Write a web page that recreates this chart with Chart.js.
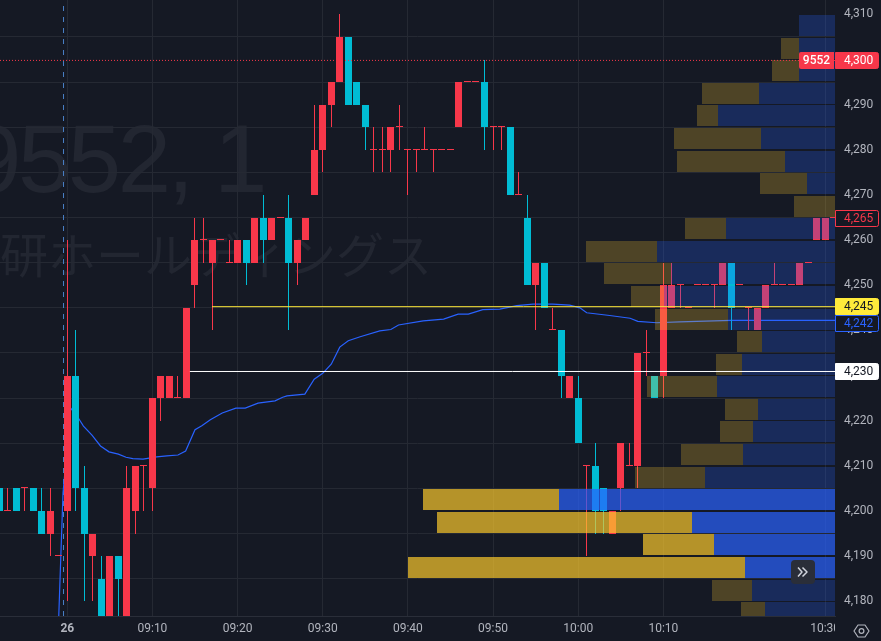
<!DOCTYPE html>
<html><head><meta charset="utf-8">
<style>html,body{margin:0;padding:0;background:#151924}canvas{display:block}</style>
<script src="https://cdn.jsdelivr.net/npm/chart.js@4"></script>
</head><body><canvas id="c" width="881" height="641"></canvas>
<script>
// minutes from 09:00, one candle per minute (-8 ... 90)
const firstMinute = -8;
const opens  = [4205,4200,4205,4205,4205,4200,4195,4190,4200,4230,4205,4190,4185,4175,4190,4175,4200,4210,4205,4225,4225,4225,4225,4250,4260,4255,4260,4255,4255,4260,4255,4265,4260,4265,4265,4255,4260,4270,4280,4290,4295,4305,4295,4290,4280,4280,4280,4285,4280,4280,4280,4280,4280,4280,4285,4295,4295,4295,4285,4285,4285,4270,4265,4250,4255,4240,4240,4225,4225,4210,4210,4205,4195,4205,4210,4210,4235,4230,4230,4245,4250,4245,4250,4250,4250,4250,4255,4250,4245,4240,4245,4250,4250,4250,4250,4255,4260,4260,4265];
const closes = [4200,4200,4200,4205,4200,4195,4200,4190,4230,4205,4195,4195,4175,4190,4185,4205,4210,4210,4225,4230,4230,4225,4245,4260,4260,4260,4260,4255,4260,4255,4265,4260,4265,4265,4255,4260,4265,4280,4290,4295,4305,4290,4290,4285,4280,4280,4285,4285,4280,4280,4280,4280,4280,4280,4295,4295,4295,4285,4285,4285,4270,4270,4250,4255,4245,4240,4230,4230,4215,4210,4200,4200,4200,4215,4210,4235,4235,4225,4250,4250,4250,4245,4250,4250,4250,4255,4245,4250,4245,4245,4250,4250,4250,4250,4255,4255,4265,4265,4265];
const highs  = [4205,4205,4205,4205,4205,4205,4205,4190,4260,4240,4210,4195,4190,4190,4190,4210,4210,4210,4225,4230,4230,4230,4245,4265,4265,4260,4260,4260,4260,4260,4265,4270,4265,4265,4270,4260,4265,4290,4290,4295,4310,4305,4295,4290,4285,4285,4285,4290,4280,4280,4285,4280,4280,4280,4295,4295,4295,4300,4285,4285,4285,4275,4270,4255,4255,4245,4240,4230,4230,4210,4215,4205,4200,4215,4215,4235,4240,4230,4255,4255,4250,4245,4250,4250,4250,4255,4255,4250,4245,4245,4250,4255,4250,4250,4255,4255,4265,4265,4265];
const lows   = [4200,4200,4200,4200,4200,4195,4190,4190,4180,4200,4180,4180,4175,4175,4175,4175,4195,4200,4200,4220,4225,4225,4225,4245,4255,4240,4260,4255,4255,4250,4255,4255,4260,4265,4240,4250,4260,4270,4275,4285,4295,4290,4290,4280,4275,4275,4275,4280,4270,4275,4280,4275,4280,4280,4285,4295,4295,4280,4280,4280,4270,4270,4250,4240,4245,4240,4225,4225,4215,4190,4195,4195,4195,4200,4210,4205,4230,4225,4225,4245,4245,4245,4250,4250,4245,4250,4240,4250,4240,4240,4245,4250,4250,4250,4250,4255,4260,4260,4265];

// volume profile rows
const profilePrices = [4307.5,4302.5,4297.5,4292.5,4287.5,4282.5,4277.5,4272.5,4267.5,4262.5,4257.5,4252.5,4247.5,4242.5,4237.5,4232.5,4227.5,4222.5,4217.5,4212.5,4207.5,4202.5,4197.5,4192.5,4187.5,4182.5,4177.5];
const profileBuy    = [36,36,36,76,117,74,50,28,0,109,178,164,171,107,73,93,118,77,82,92,130,276,143,121,90,83,70];
const profileSell   = [0,18,27,57,21,87,108,47,41,41,71,67,33,73,25,26,70,33,33,62,70,136,255,71,337,40,24];
const valueAreaLow = 4185, valueAreaHigh = 4205;

// VWAP
const vwapMinutes = [-1,-0.5,0.4,1.3,1.9,2.9,3.9,4.9,6,6.9,7.7,8.9,10.5,11.7,13,13.9,15,15.8,16.8,18.2,19.8,20.9,22.4,24.4,25.3,25.8,27.9,29,30,31,32,33,34.4,36.7,38,38.9,41.8,44.2,45.9,47.1,48.8,50.8,52.8,54.7,57,59,60.2,61,63.7,66.1,67,69.2,71.9,78,91];
const vwapValues  = [4176.7,4204,4222.8,4220.6,4218.8,4216.8,4214.4,4213.1,4212.6,4211.9,4211.6,4211.5,4212,4212.2,4212.4,4213.3,4218,4218.9,4220.2,4221.7,4222.8,4222.8,4223.9,4224.4,4225.2,4225.5,4225.9,4229.2,4230.5,4232.5,4236.3,4237.7,4238.6,4239.9,4240.2,4241.2,4242.1,4242.5,4243.6,4243.6,4244.6,4244.7,4245.5,4245.8,4245.8,4245.6,4245,4243.9,4243.3,4242.7,4242,4241.7,4241.9,4242.2,4242.2];

// axes
const priceTicks = [4310,4300,4290,4280,4270,4260,4250,4240,4230,4220,4210,4200,4190,4180];
const timeTicks = [0,10,20,30,40,50,60,70,89];
const timeLabels = ['26','09:10','09:20','09:30','09:40','09:50','10:00','10:10','10:30'];

// price levels and tags
const yellowLevel = 4245.25, yellowStart = 17;
const whiteLevel = 4230.9, whiteStart = 14.4;
const lastLevel = 4299.8;
const sessionBreak = -0.44;
const tagTexts  = ['4,300','4,265','4,245','4,242','4,230'];
const tagPrices = [4299.8,4265,4245.4,4241.7,4231];
const tagFills  = ['#f7374a','#151924','#ffeb3b','#151924','#ffffff'];
const tagEdges  = ['#f7374a','#f7374a','#ffeb3b','#2962ff','#ffffff'];
const tagInks   = ['#ffffff','#f7374a','#131722','#2962ff','#131722'];

const RED='#f7374a', CYAN='#00bcd4', BG='#151924', GRID='#252933', TXT='#b2b5be';
const xMin=-7.9, xMax=90.16, yMin=4176.745, yMax=4313.18;

const minutes = opens.map((_,i)=>firstMinute+i);
const candleColors = opens.map((o,i)=>closes[i]>=o?RED:CYAN);
const inVA = p=>p>valueAreaLow && p<valueAreaHigh;

const flat = {grouped:false,inflateAmount:0,borderWidth:0};
const datasets = [
 {type:'line',label:'session',order:7,data:[{x:sessionBreak,y:yMin},{x:sessionBreak,y:yMax}],borderColor:'#4a80c8',borderWidth:1,borderDash:[5,6],pointRadius:0},
 {type:'line',label:'VWAP',order:6,data:vwapMinutes.map((m,i)=>({x:m,y:vwapValues[i]})),borderColor:'#2962ff',borderWidth:1.2,pointRadius:0,tension:0},
 {type:'bar',label:'wicks',order:5,...flat,barThickness:1,data:minutes.map((m,i)=>({x:m,y:[lows[i],highs[i]]})),backgroundColor:candleColors},
 {type:'bar',label:'bodies',order:4,...flat,barThickness:7,minBarLength:1,data:minutes.map((m,i)=>({x:m,y:[opens[i],closes[i]]})),backgroundColor:candleColors},
 {type:'bar',label:'buy',order:3,...flat,indexAxis:'y',xAxisID:'xp',yAxisID:'y',barThickness:21,data:profilePrices.map((p,i)=>({y:p,x:[0,profileBuy[i]]})),backgroundColor:profilePrices.map(p=>inVA(p)?'rgba(41,98,255,.7)':'rgba(41,98,255,.25)')},
 {type:'bar',label:'sell',order:3,...flat,indexAxis:'y',xAxisID:'xp',yAxisID:'y',barThickness:21,data:profilePrices.map((p,i)=>({y:p,x:[profileBuy[i],profileBuy[i]+profileSell[i]]})),backgroundColor:profilePrices.map(p=>inVA(p)?'rgba(250,199,44,.7)':'rgba(250,199,44,.25)')},
 {type:'line',label:'last',order:1,data:[{x:xMin,y:lastLevel},{x:xMax,y:lastLevel}],borderColor:RED,borderWidth:1,borderDash:[1,2],pointRadius:0},
 {type:'line',label:'yellow',order:1,data:[{x:yellowStart,y:yellowLevel},{x:xMax,y:yellowLevel}],borderColor:'#ffeb3b',borderWidth:1,pointRadius:0},
 {type:'line',label:'white',order:1,data:[{x:whiteStart,y:whiteLevel},{x:xMax,y:whiteLevel}],borderColor:'#ffffff',borderWidth:1,pointRadius:0}
];

const decor = {
 id:'decor',
 beforeDraw(chart){
  const c=chart.ctx; c.save();
  c.fillStyle=BG; c.fillRect(0,0,chart.width,chart.height);
  c.fillStyle='#222631'; c.textBaseline='alphabetic'; c.textAlign='left';
  c.font='96px "Liberation Sans"'; c.letterSpacing='-3.5px';
  c.fillText('9552, 1',-32,192);
  c.letterSpacing='0px';
  c.font='48px "Noto Sans CJK JP"';
  c.fillText('研ホールディングス',0,273);
  c.restore();
 },
 beforeDatasetsDraw(chart){
  chart.getSortedVisibleDatasetMetas().forEach(meta=>{
   if(meta.type!=='bar')return;
   meta.data.forEach(el=>{
    if(el.horizontal){
     const t=Math.round(el.y-el.height/2), b=Math.round(el.y+el.height/2);
     el.y=(t+b)/2; el.height=b-t; el.x=Math.round(el.x); el.base=Math.round(el.base);
    }else{
     el.x=Math.round(el.x-0.5)+0.5;
     const same=Math.abs(el.y-el.base)<1.5 && el.y!==el.base;
     let a=Math.round(el.y), b=Math.round(el.base);
     if(same && a===b) b=a+1;
     el.y=a; el.base=b; el.height=b-a;
    }
   });
  });
 },
 afterDraw(chart){
  const c=chart.ctx, y=chart.scales.y; c.save();
  // price axis column hides the overflow of the last time label
  c.fillStyle=BG; c.fillRect(835,617,46,24);
  c.font='12px Roboto'; c.textBaseline='middle'; c.textAlign='left';
  tagTexts.forEach((t,i)=>{
   const py=Math.round(y.getPixelForValue(tagPrices[i]));
   c.beginPath(); c.roundRect(835.5,py-7.5,43,16,[0,2,2,0]);
   c.fillStyle=tagFills[i]; c.fill();
   c.strokeStyle=tagEdges[i]; c.lineWidth=1; c.stroke();
   c.fillStyle=tagInks[i];
   c.fillText(t,844,py+1);
  });
  // symbol tag
  const py=Math.round(y.getPixelForValue(tagPrices[0]));
  c.fillStyle=RED; c.beginPath(); c.roundRect(799,py-8,35,17,[2,0,0,2]); c.fill();
  c.fillStyle='#fff'; c.textAlign='center'; c.font='500 12px Roboto'; c.fillText('9552',816.5,py+1);
  // scroll button
  c.fillStyle='#2a2e39'; c.beginPath(); c.roundRect(791,560,24,24,4); c.fill();
  c.strokeStyle='#d1d4dc'; c.lineWidth=1.5; c.lineJoin='round';
  c.beginPath(); c.moveTo(798,567.5); c.lineTo(802,572); c.lineTo(798,576.5);
  c.moveTo(802.5,567.5); c.lineTo(807,572); c.lineTo(802.5,576.5); c.stroke();
  // settings icon
  c.strokeStyle=TXT; c.lineWidth=1.2;
  c.beginPath(); c.moveTo(854,631); c.lineTo(858,625); c.lineTo(865,625); c.lineTo(869,631); c.lineTo(865,637); c.lineTo(858,637); c.closePath(); c.stroke();
  c.beginPath(); c.arc(861.5,631,2.4,0,Math.PI*2); c.stroke();
  c.restore();
 }
};

new Chart(document.getElementById('c'),{
 type:'bar',
 data:{datasets},
 plugins:[decor],
 options:{
  responsive:false,animation:false,events:[],
  layout:{padding:0},
  plugins:{legend:{display:false},tooltip:{enabled:false}},
  scales:{
   x:{type:'linear',position:'bottom',offset:false,min:xMin,max:xMax,
      afterBuildTicks:s=>{s.ticks=timeTicks.map(v=>({value:v}));},
      afterFit:s=>{s.height=25;s.paddingLeft=0;s.paddingRight=0;},
      grid:{color:GRID,drawTicks:false,offset:false},
      border:{color:'#2a2e39',display:true},
      ticks:{autoSkip:false,maxRotation:0,padding:6,color:TXT,
        font:ctx=>({family:'Roboto',size:12,weight:(ctx.tick&&ctx.tick.value===0)?'bold':'normal'}),
        callback:(v,i)=>timeLabels[i]}},
   xp:{type:'linear',display:false,axis:'x',position:'bottom',min:0,max:835,reverse:true,offset:false,grid:{display:false}},
   y:{type:'linear',position:'right',min:yMin,max:yMax,beginAtZero:false,offset:false,
      afterBuildTicks:s=>{s.ticks=priceTicks.map(v=>({value:v}));},
      afterFit:s=>{s.width=46;s.paddingTop=0;s.paddingBottom=0;},
      grid:{color:GRID,drawTicks:false},
      border:{display:false},
      ticks:{autoSkip:false,padding:9,color:TXT,font:{family:'Roboto',size:12},
        callback:v=>v.toLocaleString('en-US')}}
  }
 }
});
</script></body></html>
